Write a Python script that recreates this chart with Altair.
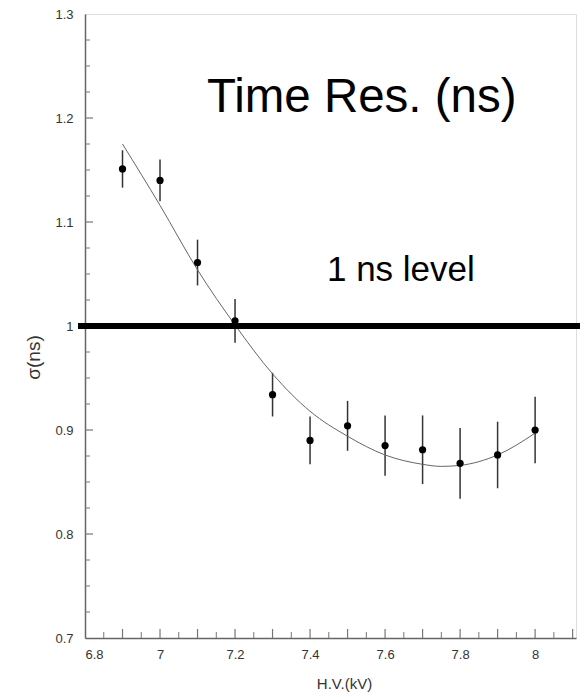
import altair as alt
import pandas as pd

# measured points: HV (kV), time resolution sigma (ns), error
hv = [6.9, 7.0, 7.1, 7.2, 7.3, 7.4, 7.5, 7.6, 7.7, 7.8, 7.9, 8.0]
sigma = [1.151, 1.140, 1.061, 1.005, 0.934, 0.890, 0.904, 0.885, 0.881, 0.868, 0.876, 0.900]
err = [0.018, 0.020, 0.022, 0.021, 0.021, 0.023, 0.024, 0.029, 0.033, 0.034, 0.032, 0.032]

# fitted curve
fit_hv = [6.9, 7.0, 7.1, 7.2, 7.3, 7.4, 7.5, 7.6, 7.7, 7.75, 7.8, 7.9, 8.0]
fit_sigma = [1.175, 1.116, 1.054, 1.001, 0.954, 0.918, 0.894, 0.876, 0.867, 0.865, 0.866, 0.876, 0.897]

level = [1.0]

x_labels = [6.8, 7.0, 7.2, 7.4, 7.6, 7.8, 8.0]
x_major = [6.9, 7.0, 7.1, 7.2, 7.3, 7.4, 7.5, 7.6, 7.7, 7.8, 7.9, 8.0, 8.1]
x_minor = [6.85, 6.95, 7.05, 7.15, 7.25, 7.35, 7.45, 7.55, 7.65, 7.75, 7.85, 7.95, 8.05]
y_labels = [0.7, 0.8, 0.9, 1.0, 1.1, 1.2, 1.3]
y_major = [0.8, 0.9, 1.0, 1.1, 1.2]
y_minor = [0.725, 0.75, 0.775, 0.825, 0.85, 0.875, 0.925, 0.95, 0.975,
           1.025, 1.05, 1.075, 1.125, 1.15, 1.175, 1.225, 1.25, 1.275]

annot_text = ["Time Res. (ns)", "1 ns level"]
annot_x = [7.125, 7.445]
annot_y = [1.2058, 1.0433]
annot_size = [47.5, 35]

W, H = 491, 624
FONT = "Liberation Sans"

pts = pd.DataFrame({"hv": hv, "sigma": sigma,
                    "lo": [s - e for s, e in zip(sigma, err)],
                    "hi": [s + e for s, e in zip(sigma, err)]})
fit = pd.DataFrame({"hv": fit_hv, "sigma": fit_sigma})

xs = alt.Scale(domain=[6.8, 8.109], nice=False, zero=False)
ys = alt.Scale(domain=[0.7, 1.3], nice=False, zero=False)

xaxis = alt.Axis(values=x_labels, format="~g", grid=False, ticks=False,
                 domainColor="#666", domainWidth=1.5,
                 labelFont=FONT, labelFontSize=13, labelColor="#333", labelPadding=10,
                 title="H.V.(kV)", titleFont=FONT, titleFontSize=15, titleFontWeight="normal",
                 titleColor="#333", titleX=259, titleY=45, titleBaseline="middle")
yaxis = alt.Axis(values=y_labels, format="~g", grid=False, ticks=False,
                 domainColor="#666", domainWidth=1.5,
                 labelFont=FONT, labelFontSize=13, labelColor="#333", labelPadding=12,
                 title="σ(ns)", titleFont=FONT, titleFontSize=19, titleFontWeight="normal",
                 titleColor="#333", titleX=-52, titleY=343, titleBaseline="middle",
                 titleAlign="center", titleAngle=-90)

errbars = alt.Chart(pts).mark_rule(color="#333", strokeWidth=1.5).encode(
    x=alt.X("hv:Q", scale=xs, axis=xaxis),
    y=alt.Y("lo:Q", scale=ys, axis=yaxis),
    y2="hi:Q",
)
dots = alt.Chart(pts).mark_circle(color="black", size=52, opacity=1).encode(
    x=alt.X("hv:Q", scale=xs), y=alt.Y("sigma:Q", scale=ys)
)
curve = alt.Chart(fit).mark_line(color="#666", strokeWidth=1, interpolate="monotone").encode(
    x=alt.X("hv:Q", scale=xs), y=alt.Y("sigma:Q", scale=ys)
)
levelline = alt.Chart(pd.DataFrame({"v": level})).mark_rule(
    color="black", strokeWidth=6, clip=False).encode(
    y=alt.Y("v:Q", scale=ys), x=alt.value(-7), x2=alt.value(W + 15)
)

yt_major = alt.Chart(pd.DataFrame({"v": y_major})).mark_rule(color="#777", strokeWidth=1.2).encode(
    y=alt.Y("v:Q", scale=ys), x=alt.value(0), x2=alt.value(8))
yt_minor = alt.Chart(pd.DataFrame({"v": y_minor})).mark_rule(color="#777", strokeWidth=1).encode(
    y=alt.Y("v:Q", scale=ys), x=alt.value(0), x2=alt.value(5))
xt_major = alt.Chart(pd.DataFrame({"v": x_major})).mark_rule(color="#777", strokeWidth=1.2).encode(
    x=alt.X("v:Q", scale=xs), y=alt.value(H), y2=alt.value(H - 9))
xt_minor = alt.Chart(pd.DataFrame({"v": x_minor})).mark_rule(color="#777", strokeWidth=1).encode(
    x=alt.X("v:Q", scale=xs), y=alt.value(H), y2=alt.value(H - 6))

ann = pd.DataFrame({"t": annot_text, "x": annot_x, "y": annot_y, "s": annot_size})
texts = alt.Chart(ann).mark_text(font=FONT, align="left", baseline="alphabetic",
                                 color="black").encode(
    x=alt.X("x:Q", scale=xs), y=alt.Y("y:Q", scale=ys), text="t:N",
    size=alt.Size("s:Q", scale=None, legend=None),
)

chart = alt.layer(
    yt_minor, yt_major, xt_minor, xt_major, errbars, curve, dots, levelline, texts
).properties(
    width=W, height=H,
    autosize=alt.AutoSizeParams(type="none"),
    padding={"left": 77, "top": 6, "right": 4, "bottom": 58},
).configure_view(stroke="#999", strokeWidth=1).configure(background="white")

chart.save("out.html", embed_options={"renderer": "svg", "actions": False})
